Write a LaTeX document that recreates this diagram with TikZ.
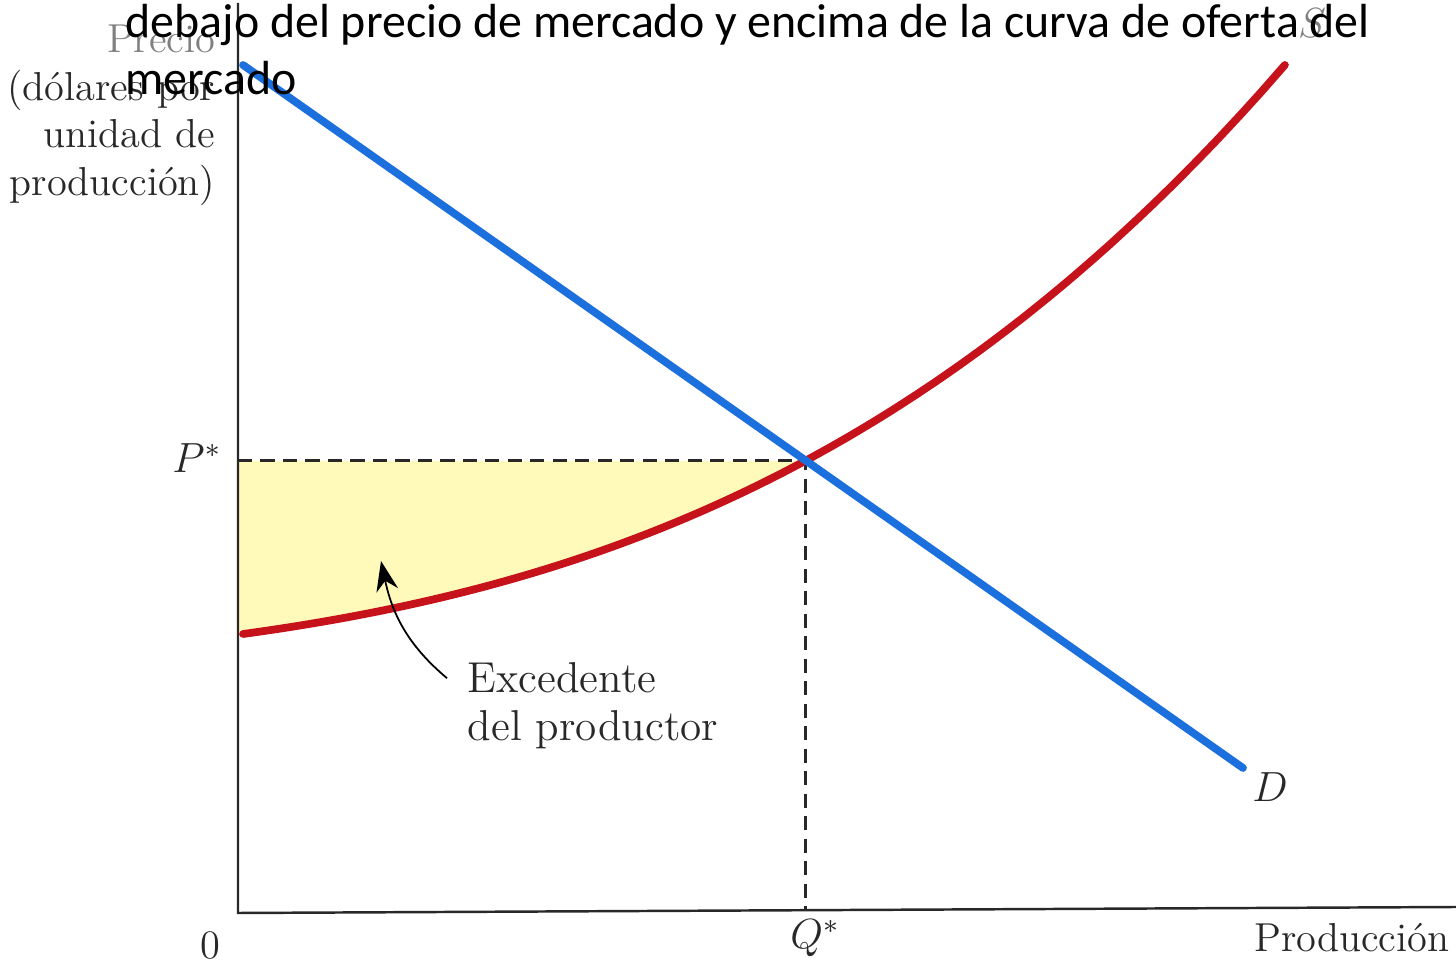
\documentclass[tikz,border=0pt]{standalone}
\usepackage{fontspec}
\newfontfamily\capfont{Carlito}
\usetikzlibrary{positioning,arrows.meta}

\definecolor{demandblue}{RGB}{28,112,222}
\definecolor{supplyred}{RGB}{198,18,26}
\definecolor{surplusyellow}{RGB}{255,250,186}
\definecolor{axisgray}{RGB}{40,40,40}

\begin{document}
\begin{tikzpicture}[
  axis line/.style={draw=axisgray,line width=0.7pt},
  guide line/.style={draw=axisgray,line width=0.85pt,dash pattern=on 4pt off 2.4pt},
  curve line/.style={line width=2.2pt,line cap=round},
  axis label/.style={text=axisgray,font=\fontsize{11.5}{13.6}\selectfont,inner sep=0pt},
  area label/.style={text=axisgray,font=\fontsize{12.3}{14}\selectfont,inner sep=0pt},
  caption line/.style={anchor=base west,inner sep=0pt,font=\capfont\fontsize{13.62}{16}\selectfont}
  ]
  \useasboundingbox (0,0) rectangle (14.56,9.65);

  \coordinate (O) at (2.38,0.52);
  \coordinate (ytop) at (2.38,9.62);
  \coordinate (xend) at (14.56,0.58);
  \coordinate (E) at (8.05,5.04);
  \coordinate (Pstar) at (O |- E);
  \coordinate (Qstar) at (8.05,0.55);
  \coordinate (D0) at (2.43,9.00);
  \coordinate (D1) at (12.43,1.97);
  \coordinate (tip) at (3.81,4.04);

  \fill[surplusyellow] (Pstar) -- (2.38,3.31)
    -- plot[domain=0:5.62,samples=60] ({2.43+\x},{3.31+0.1368*\x+0.02007*\x*\x+0.001843*\x*\x*\x}) -- cycle;

  \draw[guide line] (Pstar) -- (E) -- (Qstar);
  \draw[axis line] (ytop) -- (O) -- (xend);

  \draw[curve line,supplyred] plot[domain=0:10.42,samples=120] ({2.43+\x},{3.31+0.1368*\x+0.02007*\x*\x+0.001843*\x*\x*\x});
  \draw[curve line,demandblue] (D0) -- (D1);

  \node[axis label] (pl) at (1.97,5.07) {$P^{*}$};
  \node[axis label] (ql) at (8.15,0.27) {$Q^{*}$};
  \node[axis label] (zero) at (2.10,0.20) {0};
  \node[axis label,anchor=east] (xlab) at (14.50,0.27) {Producción};
  \node[axis label] (dl) at (12.70,1.78) {$D$};
  \node[axis label,text=gray] (sl) at (13.12,9.42) {$S$};
  \node[axis label,align=right,anchor=north east] (ylab) at (2.16,9.41)
    {{\color{gray}Precio}\\(dólares por\\unidad de\\producción)};

  \node[area label,anchor=base west] (exc) at (4.67,2.72) {Excedente};
  \node[area label,below=0.48cm of exc.base west,anchor=base west] (prod) {del productor};
  \draw[black,line width=0.5pt,-{Stealth[length=3mm,width=2.2mm]}]
    ([xshift=-2mm]exc.west) to[out=140,in=-78] (tip);

  \node[caption line] (cap1) at (1.25,9.27) {debajo del precio de mercado y encima de la curva de oferta del};
  \node[caption line,below=0.57cm of cap1.base west,anchor=base west] (cap2) {mercado};
\end{tikzpicture}
\end{document}
